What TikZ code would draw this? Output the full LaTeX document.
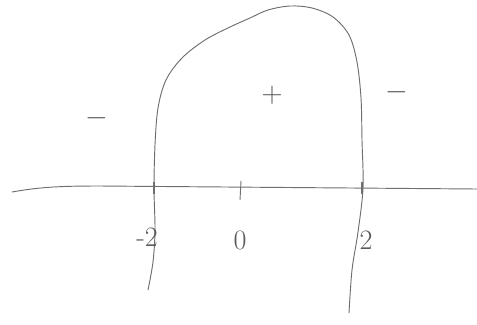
\documentclass[tikz,border=0pt]{standalone}
\usepackage{xcolor}
\usetikzlibrary{positioning,calc}

\definecolor{pencil}{RGB}{110,110,110}
\definecolor{ink}{RGB}{90,90,90}

\begin{document}
\begin{tikzpicture}[
    x=0.03cm, y=-0.03cm,
    pen/.style={draw=pencil, line width=0.8pt, line cap=round, line join=round},
    crossmark/.style={draw=pencil, line width=1.6pt},
    lbl/.style={text=ink, font=\fontsize{24}{28}\selectfont, inner sep=0pt},
    sgn/.style={text=ink, font=\fontsize{30}{34}\selectfont, inner sep=0pt},
]
\useasboundingbox (0,0) rectangle (477,324);

% Axis
\coordinate (axL) at (12,192);
\coordinate (axR) at (477,189);
\draw[pen] (axL) .. controls (40,187) and (60,186) .. (100,186) -- (axR);

% Curve
\draw[pen] plot[smooth, tension=0.55] coordinates {
    (148,290) (153,262) (155,230) (154,188) (155,145) (158,108) (166,80)
    (182,58) (205,40) (230,27) (250,18) (268,10) (290,6) (312,8)
    (333,17) (349,35) (357,62) (361,98) (362,140) (363,188)
    (358,232) (352,270) (349,313)};

% Crossings and tick
\draw[crossmark] (154,182) -- (154,194);
\draw[crossmark] (362,182) -- (362,194);
\coordinate (t0a) at (241,181);
\coordinate (t0b) at (240,200);
\draw[pen] (t0a) -- (t0b);

% Labels
\node[lbl] (lm2) at (147,237) {-2};
\node[lbl] (l0) at (240,240) {0};
\node[lbl] (l2) at (366,240) {2};

% Signs
\node[sgn] (sl) at (97,118) {$-$};
\node[sgn] (sp) at (272,95) {$+$};
\node[sgn] (sr) at (397,92) {$-$};
\end{tikzpicture}
\end{document}
